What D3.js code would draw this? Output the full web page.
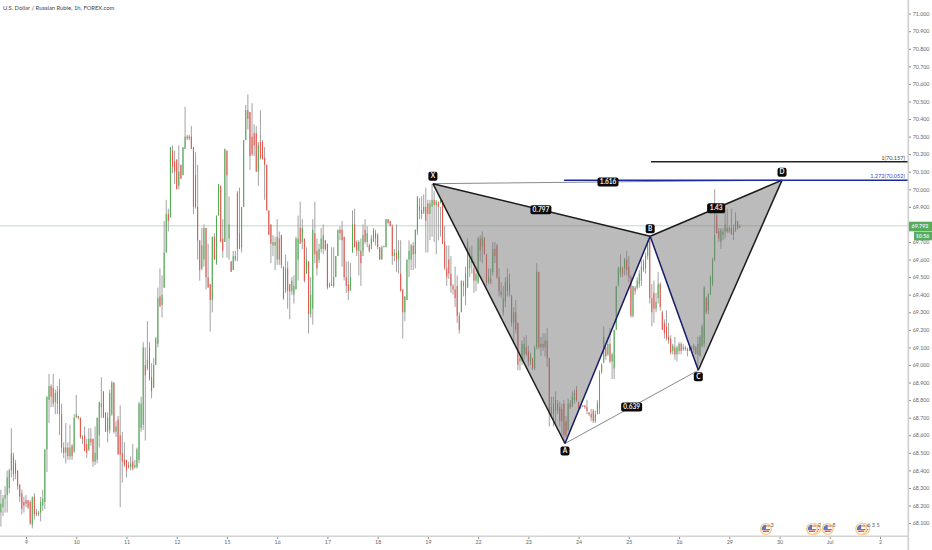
<!DOCTYPE html>
<html><head><meta charset="utf-8">
<script src="https://cdn.jsdelivr.net/npm/d3@7/dist/d3.min.js"></script>
<style>html,body{margin:0;padding:0;background:#fff;overflow:hidden}svg{display:block;font-family:Lato,"Open Sans",sans-serif}</style>
</head><body><svg id="c" width="932" height="550"></svg>
<script>
const title = "U.S. Dollar / Russian Ruble, 1h, FOREX.com";
const lastPrice = 69.792, countdown = "10:56";
const barHigh = [
68.29,68.26,68.31,68.40,68.41,68.64,68.50,68.46,68.40,68.32,
68.29,68.25,68.26,68.23,68.23,68.25,68.27,68.18,68.17,68.25,
68.29,68.52,68.82,68.95,68.89,68.95,68.86,68.88,68.92,68.78,
68.56,68.67,68.56,68.66,68.55,68.72,68.83,68.71,68.70,68.60,
68.65,68.58,68.64,68.64,68.58,68.65,68.70,68.79,68.93,68.85,
68.73,68.73,68.86,68.91,68.90,68.68,68.71,68.77,68.62,68.56,
68.46,68.45,68.48,68.55,68.46,68.53,68.79,68.82,69.13,69.10,
69.25,69.13,69.01,69.04,69.16,69.44,69.55,69.51,69.82,69.94,
69.89,70.24,70.25,70.22,70.17,70.25,70.14,70.24,70.47,70.31,
70.31,70.36,70.24,70.21,70.14,69.71,69.78,69.80,69.78,69.69,
69.46,69.73,69.75,69.85,70.03,70.02,69.83,70.23,70.22,69.96,
69.59,69.65,69.65,69.99,70.01,69.90,70.28,70.48,70.54,70.44,
70.49,70.37,70.36,70.27,70.45,70.28,70.24,70.14,69.88,69.80,
69.74,69.73,69.83,69.76,69.74,69.56,69.63,69.59,69.46,69.50,
69.51,69.73,69.85,69.93,69.83,69.72,69.67,69.59,69.50,69.83,
69.93,69.72,69.69,69.78,69.80,69.71,69.69,69.47,69.67,69.67,
69.62,69.77,69.79,69.82,69.73,69.59,69.59,69.58,69.88,69.89,
69.71,69.71,69.72,69.80,69.83,69.79,69.69,69.74,69.78,69.77,
69.75,69.67,69.68,69.68,69.83,69.83,69.82,69.80,69.66,69.80,
69.71,69.71,69.43,69.39,69.60,69.71,69.69,69.70,69.77,69.96,
69.95,69.96,69.97,70.01,69.94,69.94,70.03,69.99,69.94,69.92,
69.90,69.92,69.79,69.68,69.68,69.62,69.46,69.56,69.51,69.30,
69.48,69.48,69.56,69.72,69.67,69.68,69.59,69.54,69.73,69.74,
69.76,69.73,69.63,69.55,69.55,69.70,69.70,69.69,69.55,69.47,
69.45,69.50,69.55,69.52,69.40,69.33,69.37,69.24,69.06,69.14,
69.16,69.17,69.11,69.07,69.04,69.11,69.58,69.53,69.16,69.18,
69.18,69.21,69.04,68.82,68.82,68.85,68.80,68.79,68.78,68.80,
68.71,68.81,68.80,68.85,68.86,68.88,68.79,68.77,68.77,68.77,
68.80,68.73,68.75,68.75,68.74,68.80,68.97,69.01,69.22,69.11,
69.16,69.21,69.07,69.20,69.45,69.56,69.63,69.56,69.61,69.65,
69.62,69.51,69.45,69.45,69.50,69.54,69.60,69.60,69.64,69.71,
69.72,69.46,69.48,69.41,69.53,69.47,69.31,69.26,69.31,69.24,
69.17,69.12,69.16,69.11,69.13,69.13,69.12,69.11,69.10,69.11,
69.11,69.12,69.11,69.16,69.17,69.23,69.45,69.39,69.41,69.51,
69.61,70.00,69.86,69.78,69.78,69.78,69.88,69.89,69.79,69.89,
69.80,69.87,69.82,69.80];
const barLow = [
68.08,68.14,68.16,68.16,68.27,68.36,68.34,68.35,68.29,68.22,
68.15,68.16,68.19,68.18,68.09,68.07,68.12,68.14,68.14,68.11,
68.17,68.18,68.39,68.67,68.76,68.76,68.72,68.72,68.60,68.50,
68.47,68.44,68.46,68.46,68.46,68.51,68.70,68.69,68.58,68.55,
68.51,68.47,68.51,68.54,68.42,68.43,68.44,68.53,68.70,68.70,
68.62,68.56,68.61,68.71,68.61,68.59,68.49,68.19,68.33,68.42,
68.36,68.41,68.40,68.40,68.41,68.41,68.44,68.62,68.63,68.57,
68.97,68.91,68.81,68.87,69.00,69.10,69.34,69.27,69.44,69.64,
69.76,69.84,70.09,70.03,70.00,70.00,70.06,70.08,70.23,70.28,
70.28,70.23,69.86,69.89,69.60,69.48,69.54,69.56,69.43,69.44,
69.19,69.30,69.60,69.57,69.85,69.70,69.61,69.70,69.61,69.60,
69.53,69.54,69.59,69.59,69.66,69.64,69.90,70.28,70.34,70.11,
70.19,70.19,70.10,70.02,70.17,70.17,69.94,69.88,69.74,69.58,
69.62,69.54,69.57,69.57,69.55,69.37,69.41,69.32,69.26,69.40,
69.35,69.43,69.48,69.69,69.66,69.47,69.52,69.18,69.27,69.23,
69.58,69.51,69.58,69.64,69.63,69.65,69.43,69.44,69.45,69.44,
69.50,69.62,69.71,69.56,69.48,69.41,69.37,69.42,69.64,69.67,
69.62,69.51,69.45,69.65,69.69,69.67,69.64,69.68,69.71,69.68,
69.66,69.60,69.60,69.67,69.67,69.80,69.79,69.57,69.59,69.53,
69.52,69.42,69.15,69.25,69.37,69.50,69.54,69.54,69.55,69.74,
69.83,69.83,69.87,69.64,69.64,69.71,69.73,69.70,69.63,69.71,
69.73,69.69,69.54,69.45,69.49,69.41,69.40,69.33,69.24,69.18,
69.30,69.39,69.34,69.44,69.50,69.52,69.41,69.42,69.46,69.59,
69.58,69.63,69.45,69.46,69.46,69.51,69.58,69.49,69.39,69.38,
69.28,69.33,69.39,69.39,69.22,69.13,69.18,68.97,68.97,69.00,
69.03,69.05,68.99,69.00,68.97,68.97,69.09,69.09,69.05,69.08,
69.05,68.99,68.65,68.70,68.65,68.67,68.72,68.65,68.59,68.56,
68.59,68.62,68.75,68.78,68.78,68.79,68.75,68.75,68.76,68.75,
68.72,68.71,68.68,68.67,68.67,68.72,68.72,68.95,69.02,69.03,
69.05,69.01,68.92,68.92,69.20,69.46,69.50,69.50,69.51,69.51,
69.47,69.27,69.27,69.40,69.43,69.44,69.45,69.53,69.52,69.60,
69.35,69.22,69.24,69.30,69.35,69.31,69.20,69.15,69.14,69.12,
69.06,69.06,69.03,69.02,69.06,69.06,69.08,69.08,69.05,69.08,
69.08,69.07,69.06,68.99,69.05,69.10,69.10,69.29,69.29,69.40,
69.45,69.59,69.75,69.70,69.66,69.71,69.72,69.75,69.75,69.75,
69.71,69.76,69.77,69.78];
const barOpen = [
68.16,68.19,68.24,68.26,68.30,68.40,68.48,68.44,68.40,68.32,
68.27,68.22,68.23,68.23,68.22,68.09,68.25,68.16,68.15,68.16,
68.20,68.22,68.52,68.80,68.88,68.87,68.79,68.78,68.86,68.72,
68.53,68.50,68.53,68.48,68.54,68.50,68.70,68.71,68.70,68.59,
68.60,68.55,68.52,68.58,68.58,68.45,68.46,68.60,68.76,68.85,
68.73,68.62,68.63,68.72,68.90,68.62,68.69,68.60,68.50,68.46,
68.46,68.43,68.42,68.45,68.42,68.42,68.46,68.64,68.66,69.00,
68.98,69.10,68.93,68.87,69.00,69.12,69.39,69.34,69.44,69.64,
69.86,69.84,70.22,70.16,70.17,70.02,70.14,70.08,70.23,70.30,
70.30,70.30,70.24,70.08,69.90,69.71,69.55,69.60,69.78,69.50,
69.46,69.37,69.73,69.58,69.85,70.02,69.72,69.70,70.22,69.72,
69.59,69.54,69.60,69.98,69.66,69.67,69.90,70.28,70.45,70.44,
70.30,70.32,70.32,70.10,70.27,70.27,70.18,70.14,69.88,69.80,
69.68,69.70,69.60,69.72,69.74,69.56,69.42,69.55,69.46,69.42,
69.40,69.43,69.60,69.78,69.70,69.72,69.52,69.59,69.29,69.32,
69.75,69.65,69.60,69.66,69.66,69.71,69.69,69.45,69.46,69.45,
69.50,69.62,69.77,69.77,69.73,69.50,69.46,69.43,69.64,69.80,
69.70,69.65,69.65,69.62,69.77,69.70,69.68,69.66,69.70,69.75,
69.74,69.67,69.60,69.67,69.67,69.83,69.82,69.79,69.62,69.64,
69.60,69.52,69.43,69.30,69.37,69.60,69.60,69.68,69.63,69.76,
69.90,69.88,69.86,69.90,69.92,69.86,69.90,69.94,69.91,69.93,
69.92,69.94,69.70,69.55,69.60,69.52,69.45,69.43,69.45,69.28,
69.30,69.45,69.40,69.44,69.55,69.58,69.55,69.48,69.47,69.72,
69.67,69.72,69.63,69.47,69.49,69.53,69.66,69.68,69.50,69.42,
69.30,69.36,69.42,69.46,69.39,69.24,69.30,69.24,69.02,69.02,
69.06,69.10,69.08,69.02,69.04,68.98,69.10,69.53,69.10,69.12,
69.10,69.14,69.04,68.72,68.78,68.74,68.78,68.76,68.75,68.78,
68.68,68.63,68.78,68.76,68.80,68.86,68.79,68.76,68.765,68.77,
68.76,68.73,68.72,68.74,68.68,68.72,68.75,68.96,69.01,69.10,
69.06,69.12,69.02,68.98,69.20,69.45,69.52,69.55,69.55,69.60,
69.56,69.50,69.28,69.44,69.44,69.46,69.48,69.54,69.55,69.62,
69.71,69.38,69.41,69.32,69.38,69.46,69.30,69.24,69.22,69.16,
69.15,69.08,69.10,69.06,69.08,69.12,69.09,69.10,69.09,69.08,
69.10,69.09,69.10,69.06,69.05,69.11,69.12,69.38,69.31,69.40,
69.46,69.60,69.85,69.76,69.70,69.74,69.76,69.78,69.76,69.78,
69.74,69.76,69.82,69.78];
const barClose = [
68.21,68.24,68.26,68.36,68.40,68.50,68.38,68.38,68.31,68.25,
68.18,68.20,68.21,68.19,68.10,68.25,68.15,68.15,68.16,68.22,
68.24,68.52,68.82,68.88,68.82,68.78,68.84,68.85,68.72,68.53,
68.50,68.53,68.48,68.53,68.48,68.70,68.72,68.70,68.59,68.58,
68.51,68.50,68.58,68.56,68.45,68.50,68.70,68.79,68.78,68.70,
68.62,68.70,68.84,68.90,68.62,68.65,68.49,68.49,68.45,68.43,
68.40,68.42,68.44,68.41,68.43,68.52,68.78,68.78,69.10,68.94,
69.03,68.92,68.85,69.00,69.15,69.38,69.33,69.40,69.64,69.86,
69.82,70.24,70.13,70.10,70.00,70.10,70.06,70.24,70.30,70.29,
70.29,70.23,69.90,69.90,69.71,69.54,69.68,69.78,69.50,69.44,
69.37,69.73,69.60,69.85,70.03,69.70,69.65,70.23,70.08,69.80,
69.53,69.62,69.62,69.66,69.75,69.90,70.28,70.45,70.40,70.19,
70.20,70.25,70.10,70.25,70.18,70.17,70.14,69.88,69.74,69.69,
69.70,69.68,69.73,69.60,69.57,69.38,69.55,69.42,69.42,69.48,
69.45,69.72,69.72,69.69,69.78,69.48,69.60,69.29,69.40,69.77,
69.63,69.55,69.66,69.72,69.74,69.66,69.44,69.46,69.45,69.50,
69.62,69.77,69.75,69.71,69.50,69.45,69.42,69.50,69.80,69.67,
69.65,69.70,69.58,69.74,69.70,69.75,69.65,69.72,69.77,69.72,
69.67,69.60,69.67,69.675,69.83,69.81,69.79,69.62,69.64,69.60,
69.65,69.42,69.30,69.39,69.60,69.65,69.68,69.63,69.77,69.96,
69.88,69.86,69.90,69.82,69.86,69.92,69.94,69.91,69.93,69.90,
69.94,69.69,69.55,69.50,69.52,69.45,69.43,69.38,69.28,69.20,
69.48,69.47,69.52,69.70,69.60,69.62,69.48,69.52,69.72,69.65,
69.73,69.63,69.47,69.50,69.47,69.66,69.62,69.50,69.42,69.40,
69.38,69.47,69.50,69.42,69.24,69.30,69.20,69.00,69.04,69.12,
69.12,69.06,69.02,69.05,68.98,69.10,69.53,69.10,69.12,69.10,
69.14,69.04,68.72,68.76,68.72,68.80,68.74,68.68,68.68,68.60,
68.60,68.78,68.76,68.82,68.84,68.80,68.76,68.765,68.77,68.76,
68.74,68.72,68.70,68.68,68.72,68.78,68.96,69.00,69.16,69.05,
69.12,69.02,69.06,69.20,69.45,69.55,69.56,69.52,69.60,69.54,
69.50,69.28,69.45,69.42,69.48,69.52,69.56,69.59,69.62,69.70,
69.38,69.30,69.32,69.36,69.46,69.33,69.20,69.18,69.15,69.14,
69.07,69.11,69.06,69.10,69.12,69.08,69.10,69.09,69.08,69.10,
69.09,69.11,69.06,69.12,69.16,69.22,69.44,69.30,69.40,69.50,
69.60,69.74,69.75,69.72,69.77,69.76,69.80,69.76,69.78,69.74,
69.78,69.82,69.78,69.792];
// Harmonic pattern pivots: [bar index, price]
const patternNames = ["X","A","B","C","D"];
const patternIdx = [206.4,269.5,310.2,333.2,373.2];
const patternPrice = [70.032,68.553,69.733,68.970,70.052];
const ratioLabels = ["0.797","1.616","1.43","0.639"];
const levelPrices = [70.157,70.052];
const levelNames = ["1(70.157)","1.272(70.052)"];
const priceTicks = d3.range(681,711).map(d=>d/10).filter(d=>d!==69.8);
const dayIdx = [12,36,60,84,108,132,156,180,204,228,252,276,300,324,348,372,396,420];
const dayLabels = ["9","10","11","12","15","16","17","18","19","22","23","24","25","26","29","30","Jul","2"];
const eventIdx = [365.5,387.5,395,411];
const eventStacked = [0,1,0,1];
const eventLabels = ["3","2 : 7","8","6 3 5"];

const plotR = 908, plotB = 536;
const x = d3.scaleLinear().domain([12,420]).range([26,880]);
const y = d3.scaleLinear().domain([70,68.1]).range([189.3,523.1]);
const svg = d3.select("#c");
const bars = d3.range(barHigh.length);
const gridLine = "#c6d6c4";

// current price line
svg.append("line").attr("x1",0).attr("x2",plotR).attr("y1",y(lastPrice)).attr("y2",y(lastPrice))
  .attr("stroke",gridLine).attr("stroke-width",1);

// bars
svg.append("g").selectAll("line").data(bars).join("line")
  .attr("x1",i=>x(i)).attr("x2",i=>x(i)).attr("y1",i=>y(barHigh[i])).attr("y2",i=>y(barLow[i]))
  .attr("stroke","#a2a2a2").attr("stroke-width",1);
svg.append("g").selectAll("line").data(bars).join("line")
  .attr("x1",i=>x(i)).attr("x2",i=>x(i))
  .attr("y1",i=>y(barOpen[i])).attr("y2",i=>y(barClose[i]))
  .attr("stroke",i=>barClose[i]>=barOpen[i]?"#4caf50":"#ef5045").attr("stroke-width",1);

// pattern
const P = patternNames.map((n,i)=>({n,x:x(patternIdx[i]),y:y(patternPrice[i])}));
const path = ids=>d3.line()(ids.map(k=>[P[k].x,P[k].y]));
svg.append("path").attr("d",path([0,1,2])+"Z").attr("fill","rgba(120,120,120,0.5)");
svg.append("path").attr("d",path([2,3,4])+"Z").attr("fill","rgba(120,120,120,0.5)");
[[0,4,"#8a8a8a",1],[1,3,"#8a8a8a",1],[0,1,"#1b1b1b",1.5],[0,2,"#1b1b1b",1.5],[2,4,"#1b1b1b",1.5],
 [3,4,"#1b1b1b",1.5],[1,2,"#141a66",1.5],[2,3,"#141a66",1.5]].forEach(l=>{
  svg.append("path").attr("d",path([l[0],l[1]])).attr("fill","none").attr("stroke",l[2]).attr("stroke-width",l[3]);
});

// fib levels
svg.append("line").attr("x1",651).attr("x2",plotR).attr("y1",y(levelPrices[0])).attr("y2",y(levelPrices[0]))
  .attr("stroke","#222").attr("stroke-width",1.6);
svg.append("line").attr("x1",564).attr("x2",plotR).attr("y1",y(levelPrices[1])).attr("y2",y(levelPrices[1]))
  .attr("stroke","#1a2a9c").attr("stroke-width",1.5);
svg.append("text").attr("x",905).attr("y",y(levelPrices[0])-2).attr("text-anchor","end")
  .attr("font-size",5.6).attr("fill","#444").text(levelNames[0]);
svg.append("text").attr("x",905).attr("y",y(levelPrices[1])-2).attr("text-anchor","end")
  .attr("font-size",5.6).attr("fill","#3a46c0").text(levelNames[1]);

// tags
function tag(cx,cy,t,w,h){
  svg.append("rect").attr("x",cx-w/2).attr("y",cy-h/2).attr("width",w).attr("height",h).attr("rx",2).attr("fill","#0a0a0a");
  svg.append("text").attr("x",cx).attr("y",cy+2.3).attr("text-anchor","middle").attr("font-size",6.5)
    .attr("font-weight",700).attr("fill","#f2f2f2").text(t);
}
const offs = [-7.5,7.5,-7.5,6.5,-8];
P.forEach((p,i)=>tag(p.x,p.y+offs[i],p.n,9,9));
const mid = (a,b,f)=>[P[a].x+(P[b].x-P[a].x)*f,P[a].y+(P[b].y-P[a].y)*f];
const xb = mid(0,2,0.497), xd = mid(0,4,0.5), bd = mid(2,4,0.5), ac = mid(1,3,0.5);
tag(xb[0],xb[1],ratioLabels[0],21,9);
tag(xd[0]+.5,xd[1],ratioLabels[1],21,9);
tag(bd[0],bd[1],ratioLabels[2],18,10);
tag(ac[0],ac[1],ratioLabels[3],21,9);

// axes
svg.append("rect").attr("x",plotR-.5).attr("y",0).attr("width",1.6).attr("height",550).attr("fill","#cfcfcf");
svg.append("rect").attr("x",0).attr("y",plotB-.5).attr("width",plotR).attr("height",1.4).attr("fill","#cfcfcf");
const ay = svg.append("g").attr("transform",`translate(${plotR+1},0)`)
  .call(d3.axisRight(y).tickValues(priceTicks).tickFormat(d3.format(".3f")).tickSize(2).tickPadding(1.8));
const ax = svg.append("g").attr("transform",`translate(0,${plotB+1})`)
  .call(d3.axisBottom(x).tickValues(dayIdx).tickFormat((d,i)=>dayLabels[i]).tickSize(2).tickPadding(1.5));
[ay,ax].forEach(a=>{
  a.select(".domain").remove();
  a.selectAll("line").attr("stroke","#8c8c8c");
  a.selectAll("text").attr("fill","#666").attr("font-size",5.3).attr("font-family","Lato,sans-serif");
});

// last price tags
svg.append("rect").attr("x",909).attr("y",221.7).attr("width",23).attr("height",9.6).attr("fill","#58ad5c");
svg.append("text").attr("x",920).attr("y",228.3).attr("text-anchor","middle").attr("font-size",5.4).attr("font-weight",700).attr("fill","#eef").text(d3.format(".3f")(lastPrice));
svg.append("rect").attr("x",914).attr("y",231.7).attr("width",18).attr("height",8.6).attr("fill","#58ad5c");
svg.append("text").attr("x",922.5).attr("y",237.9).attr("text-anchor","middle").attr("font-size",5.2).attr("font-weight",700).attr("fill","#eef").text(countdown);

// events
eventIdx.forEach((e,i)=>{
  const g = svg.append("g").attr("transform",`translate(${x(e)},529)`);
  const circles = eventStacked[i] ? [3,0] : [0];
  circles.forEach(dx=>{
    const c = g.append("g").attr("transform",`translate(${dx},0)`);
    c.append("circle").attr("r",5.4).attr("fill","#fff").attr("stroke","#f3cf8e").attr("stroke-width",1.4);
    c.append("path").attr("d","M-4.3 0A4.3 4.3 0 0 1 0 -4.3V0Z").attr("fill","#5578c8");
    c.append("path").attr("d","M0 -3H4M-4.2 .6H4.2M-3 2.4H3").attr("stroke","#e0544c").attr("stroke-width",1.1).attr("fill","none");
  });
  svg.append("text").attr("x",x(e)+(eventStacked[i]?6:4.5)).attr("y",526.5).attr("font-size",5.6).attr("fill","#666").text(eventLabels[i]);
});

// title
svg.append("text").attr("x",3).attr("y",10.2).attr("font-size",5.85).attr("fill","#444").text(title);
</script></body></html>
